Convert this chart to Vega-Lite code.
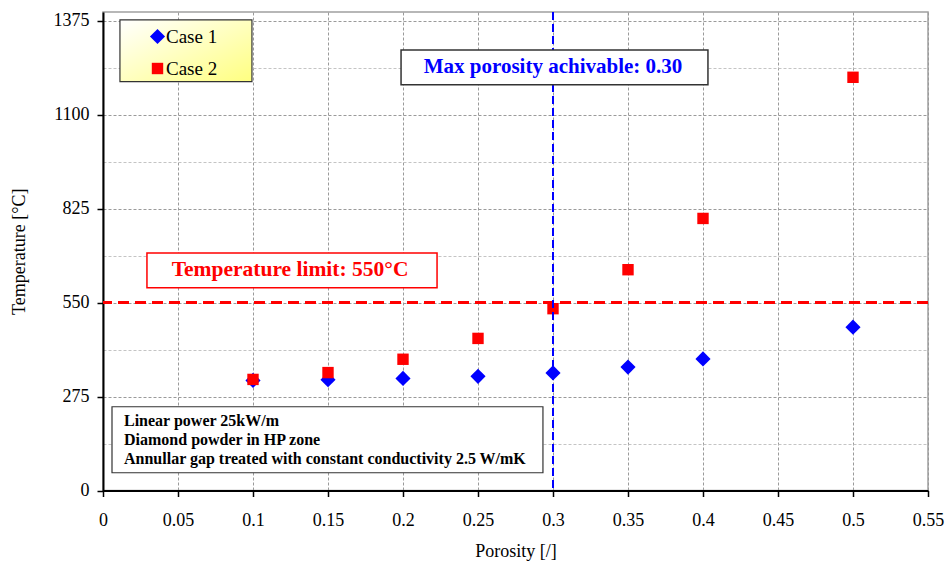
{
  "$schema": "https://vega.github.io/schema/vega-lite/v6.json",
  "autosize": {"type": "none"},
  "width": 825,
  "height": 478.5,
  "padding": {"left": 103, "top": 12, "right": 20, "bottom": 76},
  "background": "white",
  "config": {
    "font": "Liberation Serif",
    "view": {"stroke": "#a0a0a0", "strokeWidth": 1.5},
    "axis": {"labelFont": "Liberation Serif", "titleFont": "Liberation Serif", "labelFontSize": 18, "titleFontSize": 18, "titleFontWeight": "normal", "labelColor": "#000", "titleColor": "#000", "domainColor": "#000", "domainWidth": 2, "tickColor": "#000", "tickWidth": 1.5, "tickSize": 6, "gridDash": [3, 2], "gridWidth": 1}
  },
  "layer": [
    {
      "data": {"values": [
        {"porosity": 0.1, "temperature": 322, "series": "Case 1"},
        {"porosity": 0.15, "temperature": 324, "series": "Case 1"},
        {"porosity": 0.2, "temperature": 328, "series": "Case 1"},
        {"porosity": 0.25, "temperature": 334, "series": "Case 1"},
        {"porosity": 0.3, "temperature": 344, "series": "Case 1"},
        {"porosity": 0.35, "temperature": 361, "series": "Case 1"},
        {"porosity": 0.4, "temperature": 385, "series": "Case 1"},
        {"porosity": 0.5, "temperature": 478, "series": "Case 1"},
        {"porosity": 0.1, "temperature": 325, "series": "Case 2"},
        {"porosity": 0.15, "temperature": 345, "series": "Case 2"},
        {"porosity": 0.2, "temperature": 384, "series": "Case 2"},
        {"porosity": 0.25, "temperature": 445, "series": "Case 2"},
        {"porosity": 0.3, "temperature": 532, "series": "Case 2"},
        {"porosity": 0.35, "temperature": 646, "series": "Case 2"},
        {"porosity": 0.4, "temperature": 796, "series": "Case 2"},
        {"porosity": 0.5, "temperature": 1209, "series": "Case 2"}
      ]},
      "mark": {"type": "point", "filled": true, "opacity": 1},
      "encoding": {
        "x": {"field": "porosity", "type": "quantitative", "scale": {"domain": [0, 0.55], "nice": false, "zero": true},
          "axis": {"title": "Porosity [/]", "values": [0, 0.025, 0.05, 0.075, 0.1, 0.125, 0.15, 0.175, 0.2, 0.225, 0.25, 0.275, 0.3, 0.325, 0.35, 0.375, 0.4, 0.425, 0.45, 0.475, 0.5, 0.525, 0.55],
            "format": "~g", "labelExpr": "round(datum.value*40) % 2 == 0 ? datum.label : ''",
            "tickOpacity": {"condition": {"test": "round(datum.value*40) % 2 == 0", "value": 1}, "value": 0},
            "gridColor": {"condition": {"test": "round(datum.value*40) % 2 == 0", "value": "#9a9a9a"}, "value": "#cfcfcf"},
            "labelPadding": 15, "titlePadding": 13, "labelFlush": false}},
        "y": {"field": "temperature", "type": "quantitative", "scale": {"domain": [0, 1400], "nice": false},
          "axis": {"title": "Temperature [°C]", "values": [0, 137.5, 275, 412.5, 550, 687.5, 825, 962.5, 1100, 1237.5, 1375],
            "format": "d",
            "labelExpr": "round(datum.value/137.5) % 2 == 0 ? datum.label : ''",
            "tickOpacity": {"condition": {"test": "round(datum.value/137.5) % 2 == 0", "value": 1}, "value": 0},
            "gridColor": {"condition": {"test": "round(datum.value/137.5) % 2 == 0", "value": "#9a9a9a"}, "value": "#c4c4c4"},
            "labelPadding": 8, "titlePadding": 25}},
        "color": {"field": "series", "type": "nominal", "scale": {"domain": ["Case 1", "Case 2"], "range": ["#0000ff", "#ff0000"]},
          "legend": {"title": null, "orient": "none", "legendX": 45, "legendY": 15, "labelFontSize": 19, "labelFont": "Liberation Serif", "labelColor": "#000", "rowPadding": 12, "labelOffset": -1, "padding": 0}},
        "shape": {"field": "series", "type": "nominal", "scale": {"domain": ["Case 1", "Case 2"], "range": ["diamond", "square"]}},
        "size": {"field": "series", "type": "nominal", "scale": {"domain": ["Case 1", "Case 2"], "range": [230, 130]}}
      }
    },
    {
      "data": {"values": [{"temperature": 550}]},
      "mark": {"type": "rule", "color": "#ff0000", "strokeWidth": 3, "strokeDash": [11, 6]},
      "encoding": {"y": {"field": "temperature", "type": "quantitative"}}
    },
    {
      "data": {"values": [{"porosity": 0.3}]},
      "mark": {"type": "rule", "color": "#0000ff", "strokeWidth": 2, "strokeDash": [8, 4]},
      "encoding": {"x": {"field": "porosity", "type": "quantitative"}}
    },
    {
      "data": {"values": [{"x": 0.0113, "x2": 0.0993, "y": 1196, "y2": 1377}]},
      "mark": {"type": "rect", "stroke": "#333", "strokeWidth": 1.2, "fill": {"gradient": "linear", "x1": 0, "y1": 0, "x2": 1, "y2": 1, "stops": [{"offset": 0, "color": "#ffffff"}, {"offset": 1, "color": "#ffff80"}]}},
      "encoding": {"x": {"field": "x", "type": "quantitative"}, "x2": {"field": "x2"}, "y": {"field": "y", "type": "quantitative"}, "y2": {"field": "y2"}}
    },
    {
      "data": {"values": [{"x": 0.006, "x2": 0.2933, "y": 52, "y2": 245}]},
      "mark": {"type": "rect", "stroke": "#333", "strokeWidth": 1.2, "fill": "white"},
      "encoding": {"x": {"field": "x", "type": "quantitative"}, "x2": {"field": "x2"}, "y": {"field": "y", "type": "quantitative"}, "y2": {"field": "y2"}}
    },
    {
      "data": {"values": [{"x": 0.1987, "x2": 0.4033, "y": 1187, "y2": 1289}]},
      "mark": {"type": "rect", "stroke": "#333", "strokeWidth": 1.5, "fill": "white"},
      "encoding": {"x": {"field": "x", "type": "quantitative"}, "x2": {"field": "x2"}, "y": {"field": "y", "type": "quantitative"}, "y2": {"field": "y2"}}
    },
    {
      "data": {"values": [{"x": 0.0293, "x2": 0.2227, "y": 593, "y2": 695}]},
      "mark": {"type": "rect", "stroke": "#ff0000", "strokeWidth": 1.5, "fill": "white"},
      "encoding": {"x": {"field": "x", "type": "quantitative"}, "x2": {"field": "x2"}, "y": {"field": "y", "type": "quantitative"}, "y2": {"field": "y2"}}
    },
    {
      "data": {"values": [{"x": 0.3, "y": 1238, "label": "Max porosity achivable: 0.30"}]},
      "mark": {"type": "text", "font": "Liberation Serif", "fontWeight": "bold", "fontSize": 21, "color": "#0000ff", "align": "center", "baseline": "middle"},
      "encoding": {"x": {"field": "x", "type": "quantitative"}, "y": {"field": "y", "type": "quantitative"}, "text": {"field": "label"}}
    },
    {
      "data": {"values": [{"x": 0.1247, "y": 645, "label": "Temperature limit: 550°C"}]},
      "mark": {"type": "text", "font": "Liberation Serif", "fontWeight": "bold", "fontSize": 21.5, "color": "#ff0000", "align": "center", "baseline": "middle"},
      "encoding": {"x": {"field": "x", "type": "quantitative"}, "y": {"field": "y", "type": "quantitative"}, "text": {"field": "label"}}
    },
    {
      "data": {"values": [
        {"x": 0.014, "y": 202, "label": "Linear power 25kW/m"},
        {"x": 0.014, "y": 148, "label": "Diamond  powder in HP zone"},
        {"x": 0.014, "y": 92, "label": "Annullar gap treated with constant conductivity 2.5 W/mK"}
      ]},
      "mark": {"type": "text", "font": "Liberation Serif", "fontWeight": "bold", "fontSize": 16, "color": "#000", "align": "left", "baseline": "middle"},
      "encoding": {"x": {"field": "x", "type": "quantitative"}, "y": {"field": "y", "type": "quantitative"}, "text": {"field": "label"}}
    }
  ]
}
